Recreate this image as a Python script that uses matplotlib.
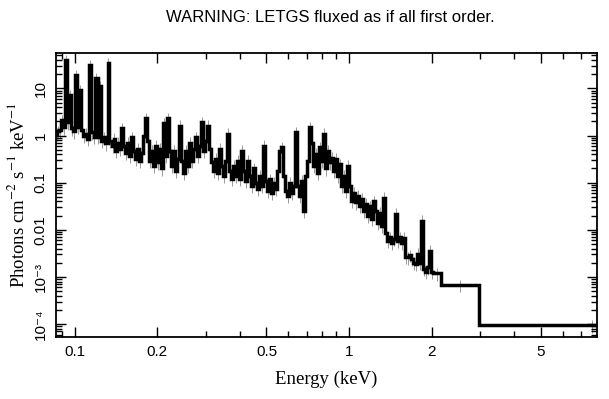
import numpy as np
import matplotlib
matplotlib.use("Agg")
import matplotlib.pyplot as plt
from matplotlib.ticker import FixedLocator, FixedFormatter, NullFormatter

plt.rcParams['font.family'] = ['Liberation Sans', 'DejaVu Sans']
plt.rcParams['mathtext.fontset'] = 'stix'

# bin edges (keV)
edges = [0.0857, 0.0865, 0.0880, 0.0895, 0.0910, 0.0925, 0.0941, 0.0957, 0.0973, 0.0990,
         0.1006, 0.1023, 0.1041, 0.1058, 0.1076, 0.1095, 0.1113, 0.1132, 0.1151, 0.1171,
         0.1190, 0.1211, 0.1231, 0.1252, 0.1273, 0.1295, 0.1317, 0.1339, 0.1362, 0.1385,
         0.1408, 0.1432, 0.1456, 0.1481, 0.1506, 0.1531, 0.1557, 0.1584, 0.1610, 0.1638,
         0.1665, 0.1694, 0.1722, 0.1751, 0.1781, 0.1811, 0.1842, 0.1873, 0.1904, 0.1937,
         0.1969, 0.2003, 0.2036, 0.2071, 0.2106, 0.2141, 0.2178, 0.2215, 0.2252, 0.2290,
         0.2329, 0.2368, 0.2408, 0.2449, 0.2490, 0.2532, 0.2575, 0.2619, 0.2663, 0.2708,
         0.2754, 0.2800, 0.2848, 0.2896, 0.2945, 0.2995, 0.3045, 0.3097, 0.3149, 0.3202,
         0.3257, 0.3312, 0.3368, 0.3425, 0.3483, 0.3541, 0.3601, 0.3662, 0.3724, 0.3787,
         0.3851, 0.3916, 0.3982, 0.4050, 0.4118, 0.4188, 0.4259, 0.4331, 0.4404, 0.4478,
         0.4554, 0.4631, 0.4709, 0.4789, 0.4870, 0.4952, 0.5036, 0.5121, 0.5207, 0.5295,
         0.5385, 0.5476, 0.5568, 0.5663, 0.5758, 0.5856, 0.5955, 0.6055, 0.6158, 0.6262,
         0.6368, 0.6475, 0.6585, 0.6696, 0.6809, 0.6924, 0.7041, 0.7160, 0.7281, 0.7404,
         0.7529, 0.7657, 0.7786, 0.7918, 0.8052, 0.8188, 0.8326, 0.8467, 0.8610, 0.8755,
         0.8903, 0.9054, 0.9207, 0.9362, 0.9521, 0.9682, 0.9845, 1.0012, 1.018, 1.035,
         1.053, 1.071, 1.089, 1.107, 1.126, 1.145, 1.164, 1.184, 1.204, 1.224,
         1.245, 1.266, 1.287, 1.309, 1.331, 1.354, 1.377, 1.400, 1.424, 1.448,
         1.472, 1.497, 1.523, 1.548, 1.575, 1.601, 1.628, 1.656, 1.684, 1.712,
         1.741, 1.771, 1.801, 1.831, 1.862, 1.894, 1.926, 1.958, 1.991, 2.025,
         2.165, 2.97, 19.8]

# photons cm^-2 s^-1 keV^-1
flux = [1.10, 1.22, 1.28, 2.09, 1.48, 39.0, 1.89, 7.1, 1.41, 1.22,
        18.9, 1.55, 9.1, 1.28, 1.0, 1.10, 0.86, 30.9, 1.16, 0.95,
        16.3, 0.95, 11.0, 0.78, 0.91, 0.68, 34.0, 0.78, 0.61, 0.86,
        0.48, 0.71, 0.53, 1.41, 0.61, 0.43, 0.71, 0.375, 0.91, 0.48,
        0.32, 0.53, 0.29, 0.43, 1.0, 2.3, 0.78, 0.29, 0.48, 0.23,
        0.61, 0.27, 0.53, 0.20, 1.80, 0.375, 2.3, 0.48, 0.23, 0.48,
        0.18, 0.32, 1.63, 0.29, 0.16, 0.48, 0.23, 0.71, 0.29, 0.53,
        0.91, 0.375, 0.61, 1.89, 0.48, 0.78, 1.63, 0.53, 0.27, 0.18,
        0.32, 0.16, 0.53, 0.23, 0.14, 0.29, 1.10, 0.18, 0.12, 0.23,
        0.14, 0.29, 0.12, 0.48, 0.18, 0.11, 0.29, 0.14, 0.086, 0.20,
        0.10, 0.074, 0.14, 0.086, 0.61, 0.11, 0.067, 0.12, 0.061, 0.10,
        0.074, 0.18, 0.48, 0.56, 0.14, 0.067, 0.053, 0.10, 0.061, 0.086,
        1.16, 0.086, 0.053, 0.11, 0.025, 0.14, 0.29, 1.48, 0.71, 0.23,
        0.41, 0.16, 0.56, 0.29, 1.10, 0.20, 0.48, 0.27, 0.34, 0.18,
        0.32, 0.14, 0.25, 0.086, 0.14, 0.067, 0.23, 0.086, 0.041, 0.061,
        0.038, 0.053, 0.032, 0.046, 0.025, 0.036, 0.020, 0.032, 0.017, 0.041,
        0.025, 0.014, 0.023, 0.012, 0.048, 0.0087, 0.0058, 0.0070, 0.0053, 0.0064,
        0.022, 0.0058, 0.0070, 0.0053, 0.0068, 0.0027, 0.0026, 0.0029, 0.0024, 0.0020,
        0.0019, 0.0031, 0.0020, 0.0155, 0.0015, 0.0013, 0.0016, 0.0036, 0.0013, 0.0012,
        0.00068, 9.4e-5]

rel_err = 0.3

x_major = [0.1, 0.2, 0.5, 1, 2, 5]
x_major_labels = ["0.1", "0.2", "0.5", "1", "2", "5"]
x_minor = [0.09, 0.3, 0.4, 0.6, 0.7, 0.8, 0.9, 3, 4, 6, 7]
y_major = [1e-4, 1e-3, 0.01, 0.1, 1, 10]
y_major_labels = ["10\u207b\u2074", "10\u207b\u00b3", "0.01", "0.1", "1", "10"]

edges = np.array(edges)
flux = np.array(flux)
centers = np.sqrt(edges[:-1] * edges[1:])

fig = plt.figure(figsize=(6.09, 3.99), dpi=100)
ax = fig.add_axes([0.092, 0.155, 0.888, 0.712])

ax.errorbar(centers, flux, yerr=flux * rel_err, fmt="none", ecolor="0.6",
            elinewidth=0.7, zorder=1)
ax.stairs(flux, edges, baseline=None, color="black", linewidth=2.5, zorder=2)

ax.set_xscale("log")
ax.set_yscale("log")
ax.set_xlim(0.0855, 8.0)
ax.set_ylim(5.3e-5, 56)

ax.xaxis.set_major_locator(FixedLocator(x_major))
ax.xaxis.set_major_formatter(FixedFormatter(x_major_labels))
ax.xaxis.set_minor_locator(FixedLocator(x_minor))
ax.xaxis.set_minor_formatter(NullFormatter())

ax.yaxis.set_major_locator(FixedLocator(y_major))
ax.yaxis.set_major_formatter(FixedFormatter(y_major_labels))
y_minor = [m * 10.0 ** e for e in range(-5, 2) for m in range(2, 10)]
ax.yaxis.set_minor_locator(FixedLocator(y_minor))
ax.yaxis.set_minor_formatter(NullFormatter())

ax.tick_params(which="both", direction="in", top=True, right=True, width=1.0)
ax.tick_params(which="major", length=7, labelsize=11, pad=6)
ax.tick_params(which="minor", length=4)
for lab in ax.get_yticklabels():
    lab.set_rotation(90)
    lab.set_va("center")

for s in ax.spines.values():
    s.set_linewidth(1.3)

ax.set_xlabel("Energy (keV)", family="Liberation Serif", fontsize=13.5, labelpad=8)
ax.set_ylabel(r"Photons cm$^{-2}$ s$^{-1}$ keV$^{-1}$", family="Liberation Serif",
              fontsize=13.5, labelpad=4)

fig.text(330 / 609, 1 - 18 / 399, "WARNING: LETGS fluxed as if all first order.",
         ha="center", va="center", fontsize=12)

fig.savefig("out.png", dpi=100)
